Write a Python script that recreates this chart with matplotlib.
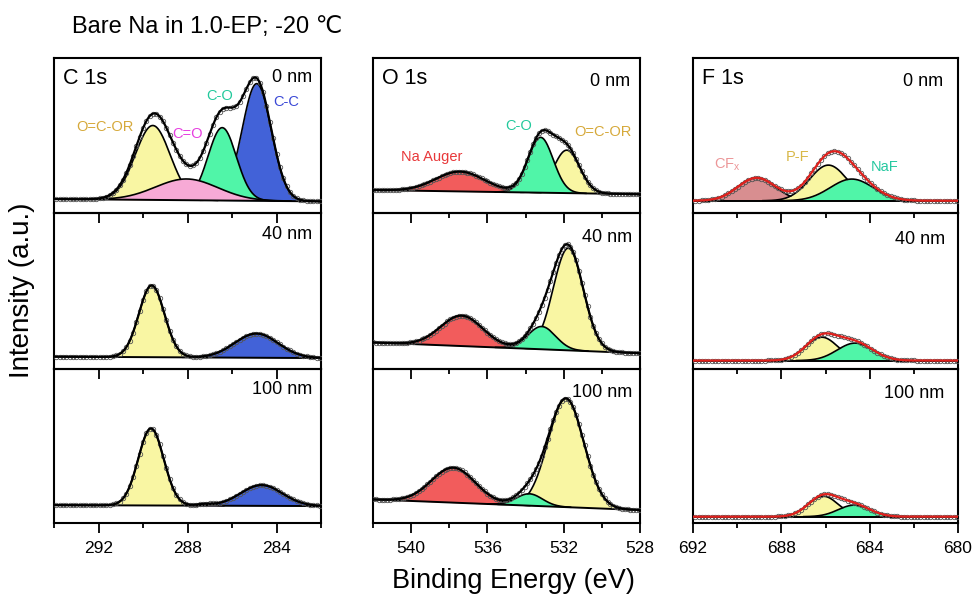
import numpy as np
import matplotlib
matplotlib.use("Agg")
import matplotlib.pyplot as plt
from matplotlib.ticker import MultipleLocator

plt.rcParams["font.family"] = ["Liberation Sans", "DejaVu Sans"]
plt.rcParams["mathtext.fontset"] = "custom"
plt.rcParams["mathtext.rm"] = "Liberation Sans"

NARROW = ["Liberation Sans Narrow", "Liberation Sans", "DejaVu Sans"]

# ---- Daten (Peakfit-Parameter) ----
depths = ["0 nm", "40 nm", "100 nm"]

# C 1s: O=C-OR, C=O, C-O, C-C
c_names = ["O=C-OR", "C=O", "C-O", "C-C"]
c_center = [[289.56, 288.04, 286.44, 284.89],
            [289.61, 288.00, 286.40, 284.90],
            [289.64, 287.20, 286.40, 284.67]]
c_height = [[48.0, 13.7, 47.0, 75.6],
            [46.0, 0.0, 0.0, 15.5],
            [50.0, 1.0, 0.0, 13.5]]
c_fwhm = [[1.85, 3.3, 1.5, 1.55],
          [1.35, 3.0, 1.4, 2.3],
          [1.35, 0.8, 1.4, 2.2]]
c_bg = [[9.0, 7.5], [7.9, 7.0], [11.6, 11.0]]

# O 1s: Na Auger, C-O, O=C-OR
o_names = ["Na Auger", "C-O", "O=C-OR"]
o_center = [[537.44, 533.21, 531.84],
            [537.35, 533.15, 531.76],
            [537.79, 533.80, 531.88]]
o_height = [[12.8, 35.7, 27.7],
            [19.5, 14.6, 65.5],
            [22.7, 7.7, 70.5]]
o_fwhm = [[3.0, 1.55, 1.6],
          [2.6, 1.7, 1.85],
          [2.7, 1.6, 2.2]]
o_bg = [[14.8, 12.1], [17.0, 10.1], [15.3, 8.4]]

# F 1s: CFx, P-F, NaF
f_names = ["CF$_\\mathregular{x}$", "P-F", "NaF"]
f_center = [[689.12, 685.87, 684.81],
            [689.00, 686.17, 684.66],
            [689.00, 686.10, 684.70]]
f_height = [[14.8, 23.0, 14.0],
            [0.0, 15.0, 11.2],
            [0.0, 13.3, 7.5]]
f_fwhm = [[2.0, 2.0, 2.3],
          [2.0, 1.7, 1.9],
          [2.0, 1.6, 1.7]]
f_bg = [[7.9, 7.9], [5.4, 5.4], [4.1, 4.1]]


def gauss(x, c, h, fwhm):
    return h * np.exp(-4 * np.log(2) * ((x - c) / fwhm) ** 2)


panels = [
    dict(title="C 1s", xlim=(294, 282), names=c_names, center=c_center,
         height=c_height, fwhm=c_fwhm, bg=c_bg, order=[3, 0, 2, 1],
         fills=["#f9f6a3", "#f7aad6", "#50f5a8", "#4262d8"],
         tcols=["#d6a93a", "#e63ee0", "#22c99c", "#3a48d6"],
         tpos=[(0.19, 0.555), (0.50, 0.51), (0.62, 0.758), (0.87, 0.713)],
         env="black", pos=(54, 267)),
    dict(title="O 1s", xlim=(542, 528), names=o_names, center=o_center,
         height=o_height, fwhm=o_fwhm, bg=o_bg, order=[0, 2, 1],
         fills=["#f25c5c", "#50f5a8", "#f9f6a3"],
         tcols=["#e8383a", "#22c99c", "#d6a93a"],
         tpos=[(0.221, 0.36), (0.545, 0.56), (0.86, 0.52)],
         env="black", pos=(373, 267)),
    dict(title="F 1s", xlim=(692, 680), names=f_names, center=f_center,
         height=f_height, fwhm=f_fwhm, bg=f_bg, order=[0, 1, 2],
         fills=["#d88e90", "#f9f6a3", "#50f5a8"],
         tcols=["#ec9698", "#d8b848", "#26c8a0"],
         tpos=[(0.13, 0.31), (0.396, 0.36), (0.725, 0.297)],
         env="#e0201c", pos=(693, 265)),
]

rows = [(58, 155), (213, 156), (369, 154)]
depth_pos = [[(0.966, 0.874), (0.966, 0.859), (0.966, 0.87)],
             [(0.963, 0.85), (0.97, 0.843), (0.97, 0.847)],
             [(0.943, 0.85), (0.95, 0.83), (0.95, 0.84)]]

W, H = 978, 601
fig = plt.figure(figsize=(W / 100, H / 100), dpi=100)

for ci, p in enumerate(panels):
    x0, w = p["pos"]
    lo, hi = min(p["xlim"]), max(p["xlim"])
    x = np.linspace(lo, hi, 800)
    xp = np.arange(lo + 0.05, hi, 0.15)
    for ri, (y0, h) in enumerate(rows):
        ax = fig.add_axes([x0 / W, 1 - (y0 + h) / H, w / W, h / H])
        ax.patch.set_visible(False)
        bl, br = p["bg"][ri]
        bg = br + (bl - br) * (x - lo) / (hi - lo)
        bgp = br + (bl - br) * (xp - lo) / (hi - lo)
        env = bg.copy()
        envp = bgp.copy()
        z = 2.0
        for k in p["order"]:
            hk = p["height"][ri][k]
            if hk <= 0:
                continue
            g = gauss(x, p["center"][ri][k], hk, p["fwhm"][ri][k])
            env += g
            envp += gauss(xp, p["center"][ri][k], hk, p["fwhm"][ri][k])
            m = g > 0.05
            ax.fill_between(x[m], bg[m], bg[m] + g[m], color=p["fills"][k],
                            lw=0, zorder=z)
            ax.plot(x[m], bg[m] + g[m], color="black", lw=1.2, zorder=z + 0.01)
            z += 0.02
        ax.plot(x, bg, color="black", lw=1.4, zorder=3)
        ax.plot(xp, envp, "o", ms=3.2, mfc="none", mec="#555555", mew=0.6,
                zorder=4)
        ax.plot(x, env, color=p["env"], lw=1.6, zorder=5)

        ax.set_xlim(p["xlim"])
        ax.set_ylim(0, 100)
        ax.set_yticks([])
        ax.xaxis.set_major_locator(MultipleLocator(4))
        ax.xaxis.set_minor_locator(MultipleLocator(2))
        ax.tick_params(axis="x", which="major", direction="out", length=7,
                       width=1.3, labelsize=12.5, labelbottom=(ri == 2), pad=6)
        ax.tick_params(axis="x", which="minor", direction="out", length=3.5,
                       width=1.3)
        for lab in ax.get_xticklabels():
            lab.set_family(NARROW)
        for s in ax.spines.values():
            s.set_linewidth(1.5)

        dx, dy = depth_pos[ci][ri]
        ax.text(dx, dy, depths[ri], transform=ax.transAxes, ha="right",
                va="center", fontsize=13)
        if ri == 0:
            ax.text(0.035, 0.865, p["title"], transform=ax.transAxes,
                    ha="left", va="center", fontsize=15.5)
            for k, name in enumerate(p["names"]):
                tx, ty = p["tpos"][k]
                ax.text(tx, ty, name, transform=ax.transAxes, ha="center",
                        va="center", fontsize=10.5, color=p["tcols"][k],
                        zorder=6)

fig.text(0.0736, 0.955, "Bare Na in 1.0-EP; -20 \u2103", fontsize=17,
         ha="left", va="center")
fig.text(0.525, 0.033, "Binding Energy (eV)", fontsize=19.5, ha="center",
         va="center", family=NARROW)
fig.text(0.022, 0.517, "Intensity (a.u.)", fontsize=20, ha="center",
         va="center", rotation=90, family=NARROW)

fig.savefig("out.png", dpi=100)
